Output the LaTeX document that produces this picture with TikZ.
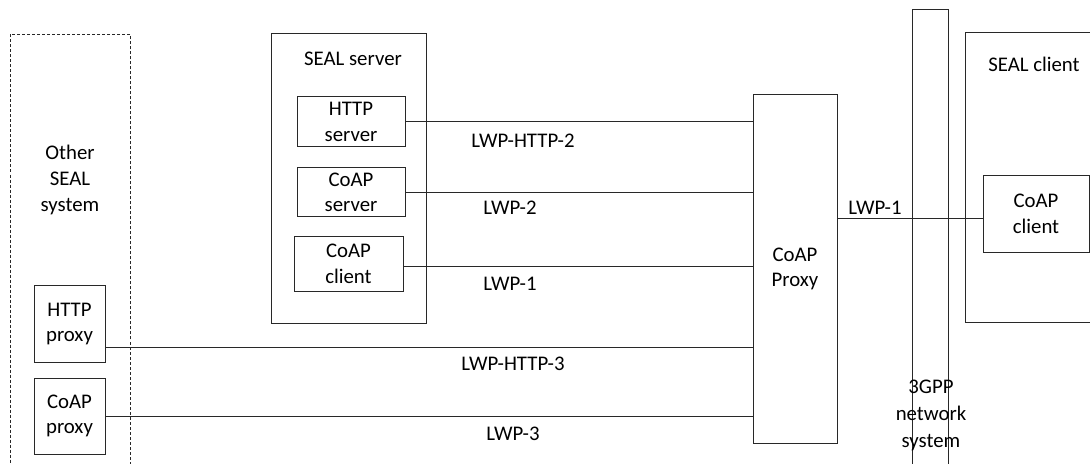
\documentclass[tikz,border=0pt]{standalone}
\usepackage{fontspec}
\setmainfont{Carlito}
\usepackage{tikz}
\usetikzlibrary{positioning}
\definecolor{lineGray}{RGB}{40,40,40}

\begin{document}
\begin{tikzpicture}[
    x=0.5pt, y=-0.5pt,
    every node/.style={font=\fontsize{10.4}{12.8}\selectfont},
    frame/.style  ={rectangle, draw=lineGray, line width=0.5pt, inner sep=0pt},
    outer/.style  ={rectangle, draw=lineGray, dash pattern=on 1.5pt off 1pt, line width=0.5pt, inner sep=0pt},
    unit/.style   ={rectangle, draw=lineGray, line width=0.5pt, align=center, inner sep=0pt},
    lbl/.style    ={align=center, inner sep=0pt},
    link/.style   ={line width=0.5pt, draw=lineGray}
]
\useasboundingbox (0,0) rectangle (1090,464);

% containers
\node[outer, minimum width=60pt, minimum height=217.5pt] (other) at (70,252) {};
\node[frame, minimum width=77.5pt, minimum height=144.5pt] (server) at (348.5,178.5) {};
\node[frame, minimum width=18pt, minimum height=230pt] (net) at (930,240) {};
\node[frame, minimum width=65pt, minimum height=144.5pt] (client) at (1030,177.5) {};

\node[lbl] (otherlbl) at (70,180) {Other\\SEAL\\system};
\node[lbl] (serverlbl) at (353,59) {SEAL server};
\node[lbl] (clientlbl) at (1034,64) {SEAL client};
\node[lbl, font=\fontsize{10.4}{13.5}\selectfont] (netlbl) at (931,415) {3GPP\\network\\system};

% functional entities
\node[unit, minimum width=35.5pt, minimum height=38pt] (hproxy) at (69.5,324) {HTTP\\proxy};
\node[unit, minimum width=35.5pt, minimum height=38pt] (cproxy) at (69.5,416) {CoAP\\proxy};
\node[unit, minimum width=54pt, minimum height=25pt] (hserver) at (351,122) {HTTP\\server};
\node[unit, minimum width=54pt, minimum height=24.5pt] (cserver) at (351,192.5) {CoAP\\server};
\node[unit, minimum width=54.5pt, minimum height=27.5pt] (sclient) at (348.5,264) {CoAP\\client};
\node[unit, minimum width=42pt, minimum height=174pt] (proxy) at (795,269) {CoAP\\Proxy};
\node[unit, minimum width=53pt, minimum height=38.5pt] (rclient) at (1036,214) {CoAP\\client};

% reference points
\coordinate (hp) at ([yshift=-11.5pt]hproxy.east);
\coordinate (sc) at ([yshift=-1.5pt]sclient.east);
\coordinate (rc) at ([yshift=-2.5pt]rclient.west);

\draw[link] (hserver.east) -- (hserver.east -| proxy.west);
\draw[link] (cserver.east) -- (cserver.east -| proxy.west);
\draw[link] (sc) -- (sc -| proxy.west);
\draw[link] (hp) -- (hp -| proxy.west);
\draw[link] (cproxy.east) -- (cproxy.east -| proxy.west);
\draw[link] (proxy.east |- rc) -- (rc);

% reference point labels
\node[lbl] (lhttp2) at (523,141) {LWP-HTTP-2};
\node[lbl] (lwp2) at (510,208) {LWP-2};
\node[lbl] (lwp1a) at (510,284) {LWP-1};
\node[lbl] (lhttp3) at (513,364) {LWP-HTTP-3};
\node[lbl] (lwp3) at (513,434) {LWP-3};
\node[lbl] (lwp1b) at (875,208) {LWP-1};
\end{tikzpicture}
\end{document}
